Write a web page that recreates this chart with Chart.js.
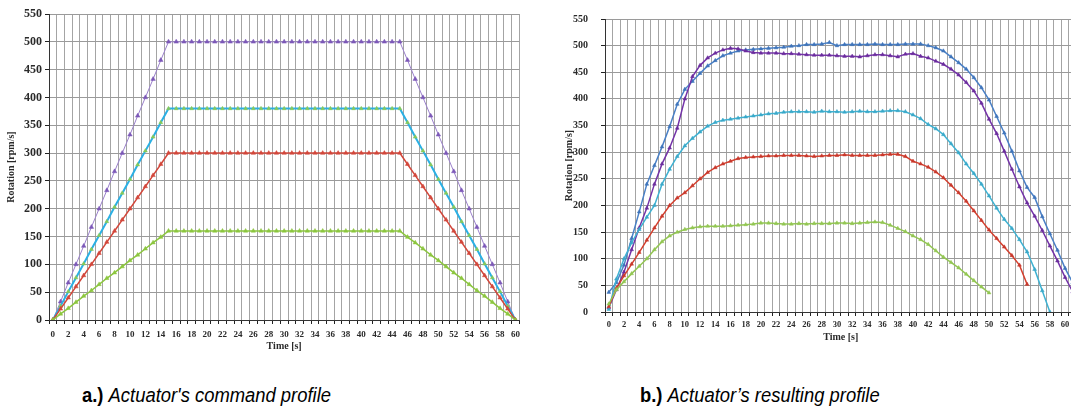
<!DOCTYPE html>
<html><head><meta charset="utf-8">
<script src="https://cdn.jsdelivr.net/npm/chart.js@4.4.0/dist/chart.umd.min.js"></script>
<style>
html,body{margin:0;padding:0;background:#fff;width:1071px;height:413px;overflow:hidden;position:relative}
#c1{position:absolute;left:0;top:0}
#c2{position:absolute;left:560px;top:0}
.cap{position:absolute;top:384px;font-family:"Liberation Sans",Arial,sans-serif;font-size:20px;color:#000;white-space:nowrap;line-height:22px;transform:scaleX(0.92);transform-origin:0 0}
.cap b{font-weight:bold}
.cap i{font-style:italic}
</style></head>
<body>
<canvas id="c1" width="525" height="352"></canvas>
<canvas id="c2" width="521" height="343"></canvas>
<div class="cap" style="left:82px"><b>a.)</b> <i>Actuator's command profile</i></div>
<div class="cap" style="left:640px"><b>b.)</b> <i>Actuator’s resulting profile</i></div>
<script>
// ---------- Data: command profile (a) ----------
const timeA = [0,1,2,3,4,5,6,7,8,9,10,11,12,13,14,15,16,17,18,19,20,21,22,23,24,25,26,27,28,29,30,31,32,33,34,35,36,37,38,39,40,41,42,43,44,45,46,47,48,49,50,51,52,53,54,55,56,57,58,59,60];
const cmdPurple = [0,33,67,100,133,167,200,233,267,300,333,367,400,433,467,500,500,500,500,500,500,500,500,500,500,500,500,500,500,500,500,500,500,500,500,500,500,500,500,500,500,500,500,500,500,500,467,433,400,367,333,300,267,233,200,167,133,100,67,33,0];
const cmdCyan   = [0,25,51,76,101,127,152,177,203,228,253,279,304,329,355,380,380,380,380,380,380,380,380,380,380,380,380,380,380,380,380,380,380,380,380,380,380,380,380,380,380,380,380,380,380,380,355,329,304,279,253,228,203,177,152,127,101,76,51,25,0];
const cmdRed    = [0,20,40,60,80,100,120,140,160,180,200,220,240,260,280,300,300,300,300,300,300,300,300,300,300,300,300,300,300,300,300,300,300,300,300,300,300,300,300,300,300,300,300,300,300,300,280,260,240,220,200,180,160,140,120,100,80,60,40,20,0];
const cmdGreen  = [0,11,21,32,43,53,64,75,85,96,107,117,128,139,149,160,160,160,160,160,160,160,160,160,160,160,160,160,160,160,160,160,160,160,160,160,160,160,160,160,160,160,160,160,160,160,149,139,128,117,107,96,85,75,64,53,43,32,21,11,0];

// ---------- Data: resulting profile (b) ----------
const timeB = [0,1,2,3,4,5,6,7,8,9,10,11,12,13,14,15,16,17,18,19,20,21,22,23,24,25,26,27,28,29,30,31,32,33,34,35,36,37,38,39,40,41,42,43,44,45,46,47,48,49,50,51,52,53,54,55,56,57,58,59,60,61];
const resBlue   = [37,55,88,138,188,240,275,310,348,390,418,433,448,462,472,481,486,490,492,493,494,495,496,497,499,500,502,502,503,506,500,502,502,502,502,503,502,502,502,503,503,503,500,496,490,479,468,456,440,421,398,367,336,302,265,234,215,179,147,116,82,55];
const resPurple = [8,42,75,117,158,195,240,278,308,345,400,442,463,477,486,492,495,494,490,487,486,486,486,485,485,484,483,482,482,482,481,480,480,479,481,483,483,481,479,484,485,480,477,471,465,456,445,431,415,392,362,335,302,268,235,205,180,153,124,96,65,38];
const resCyan   = [5,62,100,130,155,178,200,240,268,292,312,326,338,349,356,360,362,364,366,368,370,372,373,375,376,376,376,375,377,376,376,375,376,377,376,376,377,378,378,376,370,363,352,344,333,316,299,278,260,240,218,195,174,157,136,113,80,40,0,null,null,null];
const resRed    = [10,45,68,90,112,135,158,180,200,214,224,237,250,262,271,278,283,288,290,291,292,293,293,294,294,294,293,292,293,294,294,295,294,294,294,294,295,296,296,292,283,278,272,263,252,238,224,208,190,172,154,138,122,106,88,52,null,null,null,null,null,null];
const resGreen  = [15,42,57,72,86,100,117,132,143,150,155,158,160,161,161,161,162,163,164,165,167,167,166,165,165,166,165,166,166,166,167,167,166,167,168,169,168,163,157,151,143,136,127,115,103,93,83,71,59,47,36,null,null,null,null,null,null,null,null,null,null,null];

const yTicksMax = 550, yStep = 50;
const axisTitleY = 'Rotation [rpm/s]';
const axisTitleX = 'Time [s]';

const serif = 'Liberation Serif';
function ds(data, color, width, ptColor, r) {
  return {data, borderColor: color, borderWidth: width, pointStyle: 'triangle',
    pointRadius: r, pointBackgroundColor: ptColor || color, pointBorderColor: ptColor || color,
    pointBorderWidth: 0.5, tension: 0, spanGaps: false, fill: false};
}
function makeOpts(o) {
  return {
    responsive: false, animation: false,
    layout: {padding: {left: 0, right: o.padR, top: 14, bottom: 0}},
    plugins: {legend: {display: false}, tooltip: {enabled: false}},
    scales: {
      x: {
        type: 'category', offset: true,
        grid: {offset: true, color: '#a4a4a4', lineWidth: 1, tickColor: '#222', tickLength: 4},
        border: {color: '#333', width: 1},
        ticks: {autoSkip: false, maxRotation: 0, minRotation: 0, padding: o.xPad, color: '#2a2a2a',
          font: {family: serif, weight: 'bold', size: o.xFont},
          callback: function(v, i) { const l = this.getLabelForValue(v); return (Number(l) % 2 === 0) ? l : ''; }},
        title: {display: true, text: axisTitleX, color: '#2a2a2a', padding: {top: 0, bottom: 0},
          font: {family: serif, weight: 'bold', size: 10}},
        afterFit: s => { s.height = o.xH; }
      },
      y: {
        min: 0, max: yTicksMax,
        grid: {color: '#9a9a9a', lineWidth: 1, tickColor: '#222', tickLength: 4},
        border: {color: '#333', width: 1},
        ticks: {stepSize: yStep, padding: o.yPad, color: '#2a2a2a', font: {family: serif, weight: 'bold', size: o.yFont}},
        title: {display: true, text: axisTitleY, color: '#2a2a2a', padding: {top: o.tPad, bottom: 0},
          font: {family: serif, weight: 'bold', size: 10}},
        afterFit: s => { s.width = o.yW; }
      }
    }
  };
}

new Chart(document.getElementById('c1'), {
  type: 'line',
  data: {labels: timeA, datasets: [
    ds(cmdGreen, '#8cc63f', 1.5, '#8cc63f', 2.5),
    ds(cmdRed, '#d2473b', 1.5, '#d2473b', 2.5),
    ds(cmdCyan, '#2bb0e4', 2, '#86c95a', 2.3),
    ds(cmdPurple, '#9b80cc', 1, '#7c58b8', 2.6)
  ]},
  options: makeOpts({padR: 5, xPad: 5, xFont: 9, xH: 32, yPad: 3, yFont: 12, yW: 49, tPad: 5})
});

new Chart(document.getElementById('c2'), {
  type: 'line',
  data: {labels: timeB, datasets: [
    ds(resGreen, '#93c653', 1.5, '#93c653', 2.2),
    ds(resRed, '#d4402f', 1.5, '#c7382c', 2.2),
    ds(resCyan, '#3fb2d2', 1.5, '#3aa8c9', 2.2),
    ds(resPurple, '#7433a8', 1.5, '#6a2c9c', 2.2),
    ds(resBlue, '#4a80c6', 1.5, '#3f74ba', 2.2)
  ]},
  options: makeOpts({padR: 3, xPad: 4, xFont: 8.5, xH: 31, yPad: 13, yFont: 10, yW: 45, tPad: 3})
});
</script>
</body></html>
